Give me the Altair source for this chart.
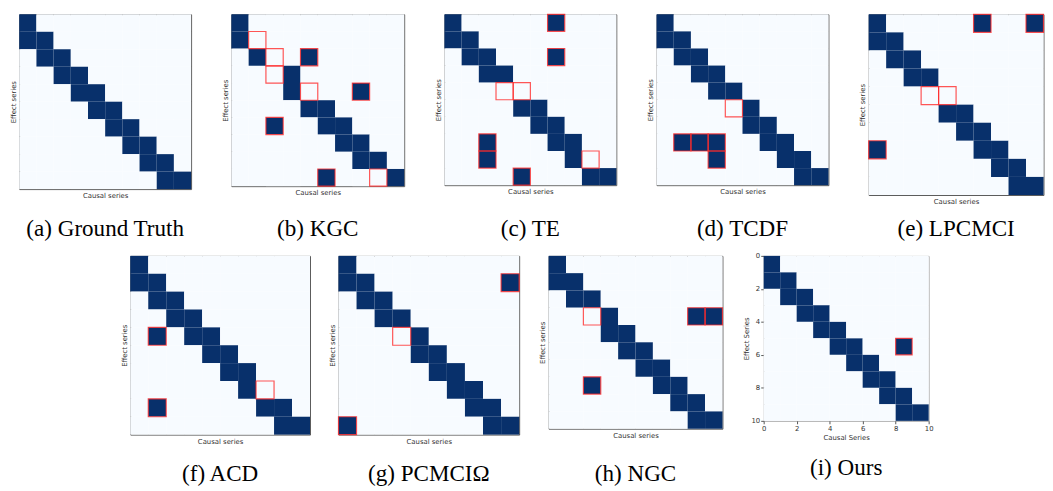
import altair as alt
import pandas as pd

N = 10
# ground-truth causal links: [effect row, causal col]
TRUTH = [[0, 0], [1, 0], [1, 1], [2, 1], [2, 2], [3, 2], [3, 3], [4, 3], [4, 4],
         [5, 4], [5, 5], [6, 5], [6, 6], [7, 6], [7, 7], [8, 7], [8, 8], [9, 8], [9, 9]]

# false positives (dark cells with red frame) / false negatives (empty red frames)
FP_GT, FN_GT = [], []
FP_KGC = [[2, 4], [4, 7], [6, 2], [9, 5]]
FN_KGC = [[1, 1], [2, 2], [3, 2], [4, 4], [9, 8]]
FP_TE = [[0, 6], [2, 6], [7, 2], [8, 2], [9, 4]]
FN_TE = [[4, 3], [4, 4], [8, 8]]
FP_TCDF = [[7, 1], [7, 2], [7, 3], [8, 3]]
FN_TCDF = [[5, 4]]
FP_LPCMCI = [[0, 6], [0, 9], [7, 0]]
FN_LPCMCI = [[4, 3], [4, 4]]
FP_ACD = [[4, 1], [8, 1]]
FN_ACD = [[7, 7]]
FP_PCMCI = [[1, 9], [9, 0]]
FN_PCMCI = [[4, 3]]
FP_NGC = [[3, 8], [3, 9], [7, 2]]
FN_NGC = [[3, 2]]
FP_OURS = [[5, 8]]
FN_OURS = []

CAPTIONS = ["(a) Ground Truth", "(b) KGC", "(c) TE", "(d) TCDF", "(e) LPCMCI",
            "(f) ACD", "(g) PCMCI\u03a9", "(h) NGC", "(i) Ours"]
METHODS = ["GT", "KGC", "TE", "TCDF", "LPCMCI", "ACD", "PCMCI", "NGC", "Ours"]
ERRORS = {"GT": (FP_GT, FN_GT), "KGC": (FP_KGC, FN_KGC), "TE": (FP_TE, FN_TE),
          "TCDF": (FP_TCDF, FN_TCDF), "LPCMCI": (FP_LPCMCI, FN_LPCMCI),
          "ACD": (FP_ACD, FN_ACD), "PCMCI": (FP_PCMCI, FN_PCMCI),
          "NGC": (FP_NGC, FN_NGC), "Ours": (FP_OURS, FN_OURS)}
TICKS = [0, 2, 4, 6, 8, 10]

rows = []
truth_set = {tuple(p) for p in TRUTH}
for m in METHODS:
    fp = {tuple(p) for p in ERRORS[m][0]}
    fn = {tuple(p) for p in ERRORS[m][1]}
    for r in range(N):
        for c in range(N):
            on = ((r, c) in truth_set and (r, c) not in fn) or (r, c) in fp
            err = "fp" if (r, c) in fp else ("fn" if (r, c) in fn else "none")
            rows.append(dict(method=m, x0=c, x1=c + 1, y0=r, y1=r + 1,
                             value=1 if on else 0, err=err))
df = pd.DataFrame(rows)

SERIF = "Liberation Serif"
SANS = "DejaVu Sans"


def panel(method, caption, w, h, cap_offset, ticks=False):
    d = df[df.method == method]
    xs = alt.Scale(domain=[0, N], nice=False, zero=False)
    ys = alt.Scale(domain=[0, N], nice=False, zero=False, reverse=True)
    if ticks:
        common = dict(values=TICKS, labelFontSize=7, labelFont=SANS,
                      labelColor="#333", tickSize=3, tickColor="#555", labelPadding=1,
                      labelOverlap=False, labelFlush=False, labelBound=False,
                      domain=False, grid=False, titleFont=SANS, titleFontSize=7,
                      titleFontWeight="normal", titleColor="#333", titlePadding=2)
        xa = alt.Axis(title="Causal Series", **common)
        ya = alt.Axis(title="Effect Series", **common)
    else:
        common = dict(labels=False, ticks=False, domain=False, grid=False,
                      titleFont=SANS, titleFontSize=7, titleFontWeight="normal",
                      titleColor="#333", titlePadding=3)
        xa = alt.Axis(title="Causal series", **common)
        ya = alt.Axis(title="Effect series", **common)
    heat = alt.Chart(d).mark_rect().encode(
        x=alt.X("x0:Q", scale=xs, axis=xa), x2="x1:Q",
        y=alt.Y("y0:Q", scale=ys, axis=ya), y2="y1:Q",
        color=alt.Color("value:Q", scale=alt.Scale(domain=[0, 1], range=["#f7fbff", "#08306b"]),
                        legend=None),
    )
    boxes = alt.Chart(d).transform_filter(alt.datum.err != "none").mark_rect(
        fillOpacity=0, stroke="#ff2a2a", strokeOpacity=0.8, strokeWidth=1.2
    ).encode(x=alt.X("x0:Q", scale=xs, axis=xa), x2="x1:Q",
             y=alt.Y("y0:Q", scale=ys, axis=ya), y2="y1:Q")
    return alt.layer(heat, boxes).properties(
        width=w, height=h,
        view=alt.ViewBackground(stroke="#aaaaaa" if ticks else "#555555", strokeWidth=1),
        title=alt.TitleParams(caption, orient="bottom", font=SERIF, fontSize=23.5,
                              fontWeight="normal", color="black", baseline="top",
                              offset=cap_offset),
    )


top = alt.hconcat(
    panel("GT", CAPTIONS[0], 175, 178, 19),
    panel("KGC", CAPTIONS[1], 176, 175, 22),
    panel("TE", CAPTIONS[2], 175, 174, 23),
    panel("TCDF", CAPTIONS[3], 175, 174, 23),
    panel("LPCMCI", CAPTIONS[4], 178, 184, 13),
    spacing=29,
)
bottom = alt.hconcat(
    panel("ACD", CAPTIONS[5], 183, 182, 18),
    panel("PCMCI", CAPTIONS[6], 184, 182, 18),
    panel("NGC", CAPTIONS[7], 177, 176, 24),
    panel("Ours", CAPTIONS[8], 168, 168, 16, ticks=True),
    spacing=17,
)
chart = alt.vconcat(top, bottom, spacing=10, center=True).properties(
    padding=0, background="white"
).configure_view(stroke="#555555")

chart.save("out.html", embed_options={"renderer": "svg", "actions": False})
